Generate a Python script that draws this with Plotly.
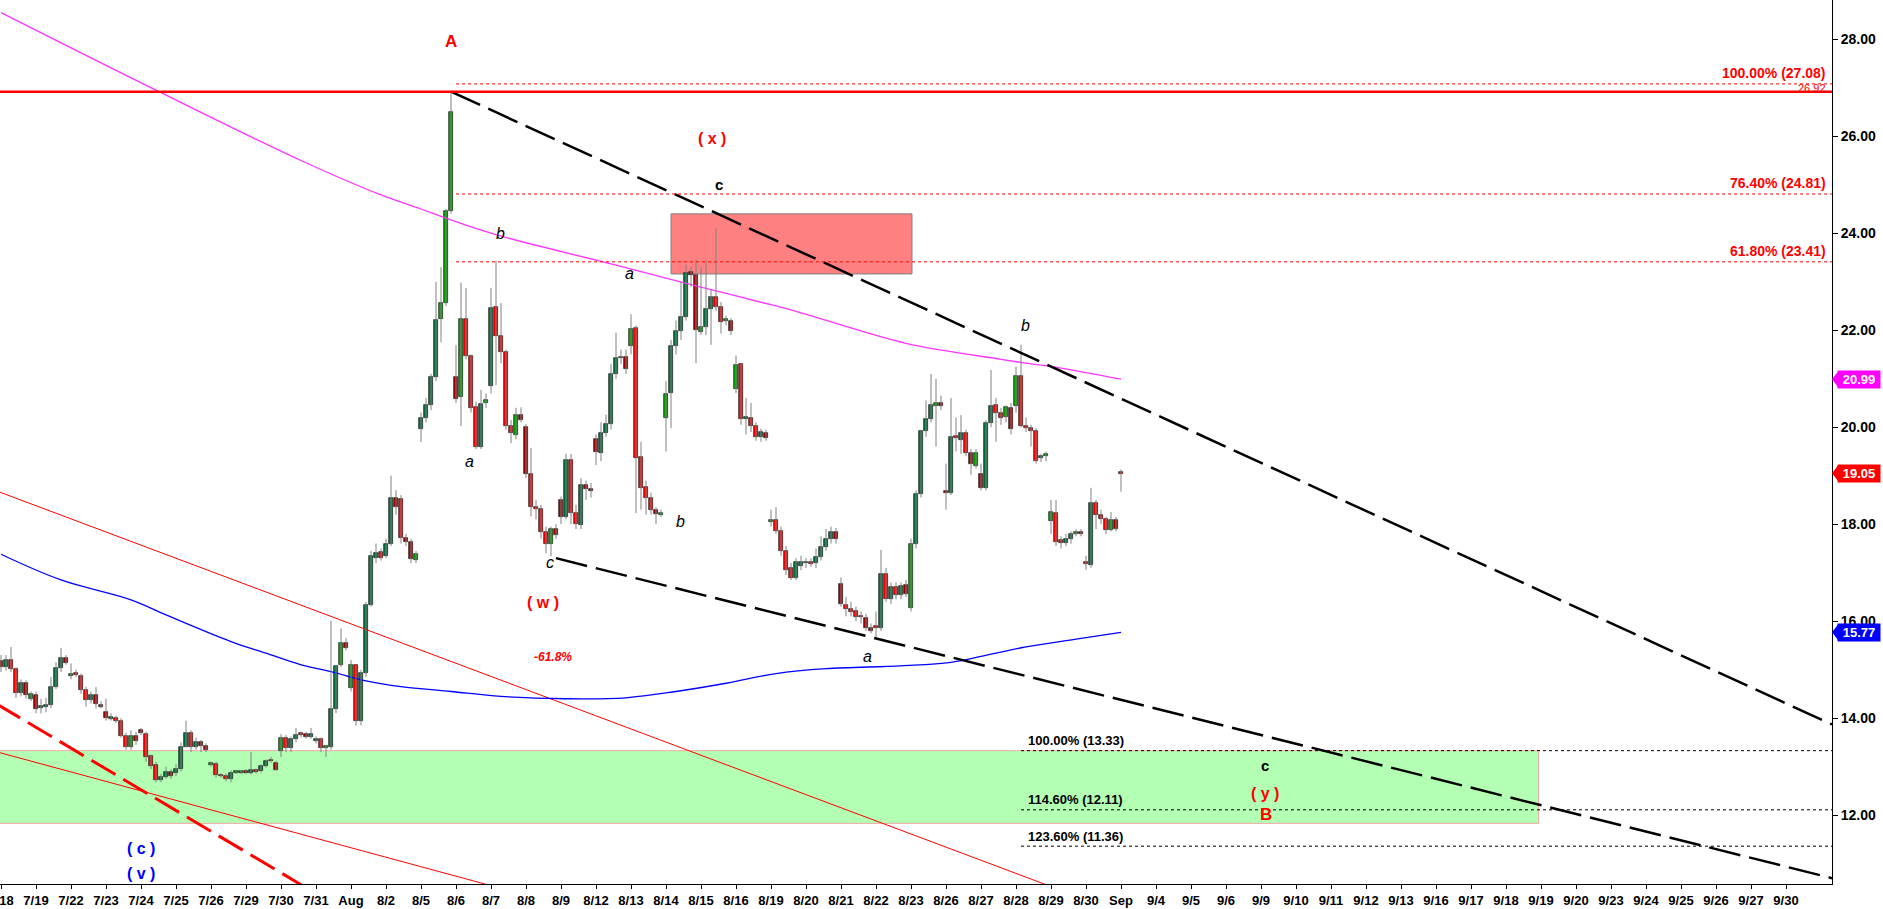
import plotly.graph_objects as go

# ---------------- data (hourly bars, 7 per session) ----------------
day_labels = ["7/18", "7/19", "7/22", "7/23", "7/24", "7/25", "7/26", "7/29", "7/30", "7/31",
              "Aug", "8/2", "8/5", "8/6", "8/7", "8/8", "8/9", "8/12", "8/13", "8/14",
              "8/15", "8/16", "8/19", "8/20", "8/21", "8/22", "8/23", "8/26", "8/27", "8/28",
              "8/29", "8/30", "Sep", "9/4", "9/5", "9/6", "9/9", "9/10", "9/11", "9/12",
              "9/13", "9/16", "9/17", "9/18", "9/19", "9/20", "9/23", "9/24", "9/25", "9/26",
              "9/27", "9/30"]
bars_per_day = 7

bar_open = [
    15.18, 15.05, 15.20, 15.01, 14.51, 14.72, 14.40, 14.47, 14.22, 14.25,
    14.27, 14.64, 15.03, 15.24, 14.87, 14.92, 14.87, 14.58, 14.37, 14.47,
    14.27, 14.13, 14.00, 14.00, 13.94, 13.64, 13.40, 13.64, 13.76, 13.67,
    13.21, 13.03, 12.72, 12.79, 12.88, 12.87, 12.96, 13.41, 13.69, 13.40,
    13.51, 13.43, 13.05, 13.06, 12.82, 12.80, 12.74, 12.89, 12.89, 12.91,
    12.87, 12.92, 12.91, 13.02, 13.13, 13.08, 13.32, 13.60, 13.38, 13.57,
    13.68, 13.67, 13.62, 13.53, 13.57, 13.40, 13.41, 14.19, 15.10, 15.55,
    14.63, 15.09, 13.94, 14.93, 16.34, 17.30, 17.42, 17.35, 17.60, 18.55,
    18.52, 17.71, 17.63, 17.27, 19.97, 20.20, 20.45, 21.03, 22.23, 22.56,
    24.46, 21.03, 20.63, 22.23, 21.46, 20.41, 19.59, 20.50, 20.84, 22.48,
    21.89, 21.55, 20.02, 19.84, 20.26, 20.00, 19.03, 18.35, 18.31, 17.83,
    17.59, 17.90, 18.50, 18.15, 19.33, 18.24, 17.98, 18.81, 18.73, 19.76,
    19.47, 19.88, 20.06, 21.09, 21.43, 21.44, 21.67, 22.04, 19.38, 18.76,
    18.55, 18.30, 18.20, 20.19, 20.70, 21.67, 21.99, 22.28, 23.20, 23.13,
    21.96, 22.06, 22.44, 22.68, 22.48, 22.20, 22.19, 20.79, 21.31, 20.17,
    20.18, 20.02, 19.80, 19.88, 18.05, 18.09, 17.85, 17.45, 17.09, 16.90,
    17.13, 17.20, 17.21, 17.20, 17.33, 17.54, 17.70, 17.84, 16.76, 16.34,
    16.25, 16.20, 16.10, 16.06, 15.86, 15.88, 15.86, 16.97, 16.45, 16.70,
    16.54, 16.74, 16.27, 17.60, 18.63, 19.92, 20.17, 20.44, 20.50, 18.68,
    18.64, 19.80, 19.73, 19.88, 19.46, 19.21, 19.03, 18.74, 20.08, 20.45,
    20.29, 20.22, 20.40, 20.43, 21.05, 20.03, 19.98, 19.92, 19.36, 19.42,
    18.06, 18.23, 17.68, 17.62, 17.70, 17.80, 17.84, 17.21, 17.16, 18.44,
    18.19, 18.10, 17.88, 18.09, 19.06]

bar_high = [
    15.30, 15.30, 15.47, 15.05, 14.80, 14.78, 14.55, 14.55, 14.40, 14.42,
    14.85, 15.15, 15.45, 15.30, 15.13, 15.00, 14.92, 14.65, 14.55, 14.64,
    14.35, 14.40, 14.10, 14.05, 14.00, 13.70, 13.75, 13.72, 13.80, 13.72,
    13.25, 13.10, 12.85, 13.00, 12.95, 13.05, 13.50, 13.95, 13.75, 13.60,
    13.55, 13.48, 13.10, 13.10, 12.86, 12.86, 12.92, 12.93, 12.93, 12.95,
    13.30, 12.96, 13.05, 13.15, 13.20, 13.12, 13.67, 13.65, 13.62, 13.80,
    13.72, 13.72, 13.80, 13.62, 13.60, 13.45, 16.01, 15.10, 15.85, 15.65,
    15.20, 15.10, 15.00, 16.40, 17.45, 17.60, 17.50, 17.70, 19.00, 18.70,
    18.60, 17.80, 17.70, 17.45, 20.30, 20.60, 21.10, 23.00, 23.30, 24.50,
    26.92, 21.69, 22.98, 22.87, 21.50, 20.53, 20.77, 20.70, 22.87, 23.43,
    22.56, 21.60, 20.15, 20.40, 20.41, 20.06, 19.57, 18.50, 18.40, 17.95,
    17.95, 18.00, 18.57, 19.45, 19.45, 18.40, 18.95, 18.90, 18.85, 19.85,
    20.10, 20.26, 21.30, 21.95, 21.60, 21.60, 22.33, 22.10, 19.70, 18.90,
    18.65, 18.35, 18.30, 20.95, 21.80, 22.20, 23.00, 23.35, 23.30, 23.45,
    23.30, 23.45, 22.85, 24.10, 22.58, 22.30, 22.25, 21.48, 21.31, 20.60,
    20.50, 20.10, 19.97, 19.95, 18.30, 18.35, 17.95, 17.55, 17.20, 17.30,
    17.35, 17.30, 17.30, 17.50, 17.75, 17.90, 17.95, 17.92, 16.90, 16.50,
    16.40, 16.30, 16.20, 16.15, 15.95, 16.20, 17.47, 17.10, 16.80, 16.80,
    16.80, 16.85, 17.70, 18.70, 19.95, 20.55, 21.10, 21.00, 20.65, 19.25,
    20.60, 20.20, 20.25, 19.95, 19.55, 19.55, 19.25, 20.15, 21.18, 20.60,
    20.40, 20.45, 20.50, 21.25, 21.70, 20.20, 20.05, 19.98, 19.45, 19.50,
    18.50, 18.50, 17.75, 17.80, 17.85, 17.90, 17.90, 17.35, 18.75, 18.50,
    18.30, 18.15, 18.25, 18.15, 19.13]

bar_low = [
    14.95, 14.98, 14.95, 14.42, 14.45, 14.40, 14.35, 14.10, 14.10, 14.12,
    14.20, 14.60, 14.95, 15.10, 14.80, 14.85, 14.50, 14.24, 14.30, 14.20,
    14.20, 13.95, 13.95, 13.90, 13.60, 13.35, 13.35, 13.45, 13.65, 13.10,
    12.95, 12.68, 12.68, 12.75, 12.75, 12.80, 12.90, 13.40, 13.30, 13.35,
    13.30, 13.30, 13.00, 12.77, 12.77, 12.70, 12.68, 12.85, 12.85, 12.85,
    12.84, 12.86, 12.88, 12.98, 13.08, 12.92, 13.20, 13.30, 13.30, 13.50,
    13.60, 13.58, 13.58, 13.48, 13.30, 13.20, 13.35, 14.10, 15.05, 15.40,
    14.55, 13.85, 13.85, 14.85, 16.30, 17.20, 17.25, 17.30, 17.55, 18.20,
    17.60, 17.55, 17.20, 17.20, 19.69, 20.10, 20.35, 20.95, 21.75, 22.50,
    24.40, 20.50, 20.02, 21.40, 20.30, 19.55, 19.55, 20.40, 20.70, 20.87,
    21.32, 19.95, 19.67, 19.75, 20.10, 18.95, 18.16, 18.10, 17.70, 17.40,
    17.34, 17.70, 18.00, 18.10, 18.00, 17.90, 17.90, 18.50, 18.55, 19.22,
    19.30, 19.80, 19.95, 21.00, 21.30, 21.10, 21.50, 18.23, 18.30, 18.20,
    18.20, 18.00, 18.15, 19.50, 19.98, 21.50, 21.80, 22.20, 22.90, 21.32,
    21.90, 21.90, 21.70, 22.40, 21.93, 22.10, 21.90, 20.70, 20.05, 19.85,
    19.90, 19.72, 19.70, 19.72, 17.95, 17.80, 17.35, 16.95, 16.85, 16.85,
    17.05, 17.10, 17.12, 17.10, 17.25, 17.45, 17.60, 17.60, 16.30, 16.10,
    16.10, 16.00, 15.95, 15.80, 15.75, 15.65, 15.80, 16.40, 16.35, 16.45,
    16.45, 16.50, 16.20, 17.50, 18.55, 19.80, 20.10, 19.60, 20.35, 18.30,
    18.60, 19.50, 19.45, 19.40, 19.02, 19.15, 18.70, 18.70, 20.00, 19.70,
    20.05, 20.10, 19.85, 20.30, 20.00, 19.90, 19.60, 19.25, 19.28, 19.30,
    17.80, 17.55, 17.50, 17.55, 17.60, 17.75, 17.75, 17.06, 17.10, 17.90,
    18.00, 17.80, 17.85, 17.85, 18.67]

bar_close = [
    15.05, 15.20, 15.01, 14.51, 14.72, 14.47, 14.49, 14.19, 14.23, 14.26,
    14.64, 15.03, 15.24, 15.14, 14.92, 14.91, 14.58, 14.37, 14.47, 14.29,
    14.22, 14.00, 14.01, 13.94, 13.64, 13.40, 13.64, 13.53, 13.69, 13.20,
    13.01, 12.72, 12.78, 12.90, 12.80, 12.95, 13.40, 13.69, 13.41, 13.51,
    13.42, 13.35, 13.06, 12.82, 12.81, 12.74, 12.87, 12.90, 12.90, 12.87,
    12.94, 12.91, 13.02, 13.12, 13.12, 12.94, 13.60, 13.38, 13.58, 13.65,
    13.67, 13.62, 13.67, 13.57, 13.38, 13.41, 14.19, 15.07, 15.55, 15.44,
    15.09, 13.94, 14.93, 16.34, 17.35, 17.40, 17.30, 17.60, 18.55, 18.35,
    17.71, 17.64, 17.28, 17.38, 20.19, 20.45, 21.03, 22.21, 22.56, 24.45,
    26.50, 20.59, 22.23, 21.46, 20.39, 19.60, 20.48, 20.56, 22.46, 21.89,
    21.56, 20.02, 19.88, 20.26, 20.14, 19.03, 18.35, 18.31, 17.83, 17.59,
    17.90, 17.78, 18.15, 19.33, 18.24, 18.00, 18.81, 18.73, 18.68, 19.49,
    19.88, 20.06, 21.09, 21.42, 21.44, 21.20, 22.02, 19.36, 18.74, 18.54,
    18.30, 18.21, 18.21, 20.68, 21.67, 21.99, 22.27, 23.19, 23.13, 22.01,
    22.06, 22.44, 22.68, 22.48, 22.16, 22.21, 21.99, 21.29, 20.17, 20.21,
    20.02, 19.80, 19.90, 19.78, 18.07, 17.85, 17.45, 17.06, 16.90, 17.23,
    17.23, 17.22, 17.20, 17.33, 17.53, 17.70, 17.84, 17.69, 16.35, 16.25,
    16.19, 16.08, 16.09, 15.86, 15.79, 15.89, 16.97, 16.45, 16.70, 16.54,
    16.73, 16.56, 17.60, 18.63, 19.92, 20.17, 20.46, 20.50, 20.44, 18.64,
    19.80, 19.81, 19.88, 19.46, 19.24, 19.46, 18.74, 20.08, 20.43, 20.29,
    20.18, 20.41, 19.97, 21.05, 20.03, 19.98, 19.92, 19.31, 19.40, 19.43,
    18.25, 17.64, 17.62, 17.70, 17.80, 17.84, 17.80, 17.20, 18.44, 18.19,
    18.10, 17.88, 18.09, 17.90, 19.05]

# body tone: G bright green, g dark green, R bright red, r dark red
bar_tone = (
    "rgRRgrGrgg" "gggrGRRRgr" "rrgRRRGrrR" "RRggrgggRg" "rrGRRRgGGr"
    "gRggRrGRgg" "RrggRGggGr" "GRggggRggr" "RrrGggggGG" "GrGRRRgGgR"
    "RRRGrrRRRR" "GrrgRRgrrr" "ggggGrGRRR" "RrGGggggrr" "GggRRGrGRg"
    "RRgrGRRRRg" "ggRggggrrR" "RRRrrRgRgR" "grGggggGrr" "gRgRrGrggR"
    "RGrGRRRRgG" "GRRggGrRgR" "RRGrR")

# moving averages (bar index, value)
ma_magenta_x = [0, 31, 60, 76, 84, 89, 99, 120, 128, 138, 155, 160, 181, 200, 205, 212, 224]
ma_magenta_y = [28.55, 26.95, 25.50, 24.79, 24.50, 24.31, 23.97, 23.42, 23.21, 22.94,
                22.50, 22.36, 21.73, 21.40, 21.32, 21.22, 20.99]
ma_blue_x = [0, 12, 26, 33, 46, 53, 60, 66, 73, 80, 90, 100, 113, 125, 135, 145,
             155, 165, 180, 190, 198, 205, 215, 224]
ma_blue_y = [17.38, 16.85, 16.44, 16.13, 15.58, 15.34, 15.10, 14.96, 14.77, 14.65,
             14.55, 14.45, 14.40, 14.42, 14.55, 14.72, 14.92, 15.02, 15.08, 15.15, 15.32,
             15.47, 15.63, 15.77]

# trend / channel lines (bar index, value)
upper_trend_x, upper_trend_y = [90, 366.2], [26.92, 13.87]
lower_trend_x, lower_trend_y = [111, 366.2], [17.30, 10.70]
red_channel1_x, red_channel1_y = [-1, 212], [18.69, 10.45]
red_channel2_x, red_channel2_y = [-1, 105], [13.31, 10.35]
red_dash_x, red_dash_y = [-1, 64], [14.30, 10.32]

peak_level = 26.92
red_fib_levels = [27.08, 24.81, 23.41]
red_fib_labels = ["100.00% (27.08)", "76.40% (24.81)", "61.80% (23.41)"]
red_fib_start = 91
black_fib_levels = [13.33, 12.11, 11.36]
black_fib_labels = ["100.00% (13.33)", "114.60% (12.11)", "123.60% (11.36)"]
black_fib_start = 204

target_box_x, target_box_y = [134, 182.2], [23.16, 24.40]
target_zone_x, target_zone_y = [-1, 307.5], [11.83, 13.33]

# wave labels: text, bar index, value, kind
wave_labels = [
    ("A", 90.0, 27.95, "big"),
    ("( x )", 142.1, 25.96, "red"),
    ("c", 143.6, 25.00, "plain"),
    ("b", 99.8, 24.00, "ital"),
    ("a", 125.7, 23.16, "ital"),
    ("a", 93.7, 19.29, "ital"),
    ("c", 109.8, 17.20, "ital"),
    ("b", 135.8, 18.06, "ital"),
    ("b", 204.8, 22.09, "ital"),
    ("a", 173.2, 15.28, "ital"),
    ("( w )", 108.4, 16.39, "red"),
    ("-61.8%", 110.3, 15.26, "pct"),
    ("( c )", 27.9, 11.31, "blue"),
    ("( v )", 27.9, 10.79, "blue"),
    ("c", 252.7, 13.03, "plain"),
    ("( y )", 252.7, 12.45, "red"),
    ("B", 253.0, 12.02, "big"),
]

price_tags = [("20.99", 20.99, "#ff00ff"), ("19.05", 19.05, "#ff0000"), ("15.77", 15.77, "#0000ff")]

# ---------------- figure ----------------
FONT = "Arial, 'Liberation Sans', sans-serif"
tone_color = {"G": "#00a000", "g": "#00703c", "R": "#ff0000", "r": "#a00000"}
X_MIN, X_MAX = -0.2, 366.2
Y_MIN, Y_MAX = 10.58, 28.81

n = len(bar_close)
idx = list(range(n))

fig = go.Figure()

# zones
fig.add_shape(type="rect", xref="x", yref="y", x0=target_zone_x[0], x1=target_zone_x[1],
              y0=target_zone_y[0], y1=target_zone_y[1], fillcolor="#b3ffb3",
              line=dict(color="#f2a9a9", width=1), layer="below")
fig.add_shape(type="rect", xref="x", yref="y", x0=target_box_x[0], x1=target_box_x[1],
              y0=target_box_y[0], y1=target_box_y[1], fillcolor="#ff8080",
              line=dict(color="#808080", width=1), layer="below")

# fib lines
for lvl in red_fib_levels:
    fig.add_shape(type="line", xref="x", yref="y", x0=red_fib_start, x1=X_MAX, y0=lvl, y1=lvl,
                  line=dict(color="#ff0000", width=1, dash="3px,3px"))
for lvl in black_fib_levels:
    fig.add_shape(type="line", xref="x", yref="y", x0=black_fib_start, x1=X_MAX, y0=lvl, y1=lvl,
                  line=dict(color="#000000", width=1, dash="3px,3px"))
fig.add_shape(type="line", xref="x", yref="y", x0=X_MIN, x1=X_MAX, y0=peak_level, y1=peak_level,
              line=dict(color="#ff0000", width=2.5))

# channel lines
for xs, ys, w, d in [(red_channel1_x, red_channel1_y, 1, "solid"),
                     (red_channel2_x, red_channel2_y, 1, "solid"),
                     (red_dash_x, red_dash_y, 3, "28px,9px")]:
    fig.add_trace(go.Scatter(x=xs, y=ys, mode="lines", line=dict(color="#ff0000", width=w, dash=d),
                             hoverinfo="skip"))

# moving averages
fig.add_trace(go.Scatter(x=ma_magenta_x, y=ma_magenta_y, mode="lines", line_shape="spline",
                         line=dict(color="#ff33ff", width=1.3), hoverinfo="skip"))
fig.add_trace(go.Scatter(x=ma_blue_x, y=ma_blue_y, mode="lines", line_shape="spline",
                         line=dict(color="#0000ff", width=1.3), hoverinfo="skip"))

# wicks
wx, wy = [], []
for i in idx:
    wx += [i, i, None]
    wy += [bar_low[i], bar_high[i], None]
fig.add_trace(go.Scatter(x=wx, y=wy, mode="lines", line=dict(color="#808080", width=1),
                         hoverinfo="skip"))

# bodies
base, height = [], []
for o, c in zip(bar_open, bar_close):
    h = abs(c - o)
    if h < 0.035:
        mid = (o + c) / 2
        base.append(mid - 0.0175)
        height.append(0.035)
    else:
        base.append(min(o, c))
        height.append(h)
fig.add_trace(go.Bar(x=idx, y=height, base=base, width=0.8,
                     marker=dict(color=[tone_color[t] for t in bar_tone],
                                 line=dict(color="#202020", width=0.7)),
                     hoverinfo="skip"))

# trend lines (black dashed)
for xs, ys in [(upper_trend_x, upper_trend_y), (lower_trend_x, lower_trend_y)]:
    fig.add_trace(go.Scatter(x=xs, y=ys, mode="lines",
                             line=dict(color="#000000", width=2.5, dash="32px,9px"),
                             hoverinfo="skip"))

annotations = []
for txt, lvl in zip(red_fib_labels, red_fib_levels):
    annotations.append(dict(xref="paper", x=1, xanchor="right", xshift=-4, yref="y", y=lvl,
                            yanchor="middle", yshift=11, text=txt, showarrow=False,
                            font=dict(family=FONT, size=14, color="#ff0000", weight=700)))
annotations.append(dict(xref="paper", x=1, xanchor="right", xshift=-4, yref="y", y=27.0,
                        yanchor="middle", text="26.92", showarrow=False,
                        font=dict(family=FONT, size=11, color="#ff0000")))
for txt, lvl in zip(black_fib_labels, black_fib_levels):
    annotations.append(dict(xref="x", x=black_fib_start, xanchor="left", xshift=5, yref="y", y=lvl,
                            yanchor="middle", yshift=10, text=txt, showarrow=False,
                            font=dict(family=FONT, size=13, color="#000000", weight=700)))

styles = {
    "big": dict(size=17, color="#ff0000", weight=700),
    "red": dict(size=16, color="#ff0000", weight=700),
    "blue": dict(size=16, color="#0000ff", weight=700),
    "plain": dict(size=15, color="#000000", weight=700),
    "ital": dict(size=16, color="#000000", style="italic"),
    "pct": dict(size=12, color="#ff0000", weight=700, style="italic"),
}
for txt, xi, yv, kind in wave_labels:
    annotations.append(dict(xref="x", x=xi, yref="y", y=yv, text=txt, showarrow=False,
                            xanchor="center", yanchor="middle",
                            font=dict(family=FONT, **styles[kind])))

for txt, val, col in price_tags:
    annotations.append(dict(xref="paper", x=1, xanchor="left", xshift=5, yref="y", y=val,
                            yanchor="middle", text=txt, showarrow=False, bgcolor=col,
                            borderpad=1, width=40,
                            font=dict(family=FONT, size=13, color="#ffffff", weight=700)))
    fig.add_shape(type="path", xref="paper", yref="y",
                  path=f"M 1.0,{val} L 1.0035,{val + 0.17} L 1.0035,{val - 0.17} Z",
                  fillcolor=col, line=dict(color=col, width=0))

tickvals = [bars_per_day * d for d in range(len(day_labels))]

fig.update_layout(
    width=1883, height=909,
    margin=dict(l=0, r=51, t=0, b=25, autoexpand=False),
    plot_bgcolor="#ffffff", paper_bgcolor="#ffffff",
    showlegend=False, bargap=0, hovermode=False,
    annotations=annotations,
    font=dict(family=FONT),
)
fig.update_xaxes(range=[X_MIN, X_MAX], tickmode="array", tickvals=tickvals, ticktext=day_labels,
                 ticks="outside", ticklen=4, tickcolor="#000000", showline=True,
                 linecolor="#000000", linewidth=1, showgrid=False, zeroline=False,
                 automargin=False, ticklabeloverflow="allow",
                 tickfont=dict(family=FONT, size=13, color="#000000", weight=700))
fig.update_yaxes(range=[Y_MIN, Y_MAX], side="right", tickmode="linear", tick0=0, dtick=2,
                 tickformat=".2f", ticks="outside", ticklen=5, tickcolor="#000000",
                 showline=True, linecolor="#000000", linewidth=1, showgrid=False,
                 zeroline=False, automargin=False,
                 tickfont=dict(family=FONT, size=14, color="#000000", weight=700))

fig.write_html("out.html", config={"displayModeBar": False},
               post_script="document.body.style.margin='0px';")
